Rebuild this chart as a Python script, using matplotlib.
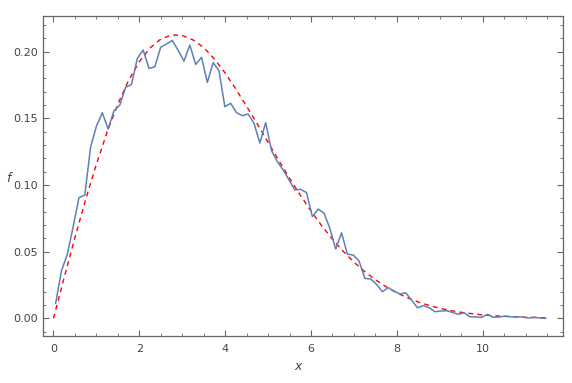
import numpy as np
import matplotlib
matplotlib.use("Agg")
import matplotlib.pyplot as plt
from matplotlib.ticker import MultipleLocator

# histogram-like estimate (blue), evenly spaced bins from 0.05 to 11.47
f_hist = [0.0113, 0.0357, 0.0480, 0.0687, 0.0905, 0.0925, 0.1287, 0.1443, 0.1542, 0.1420,
          0.1557, 0.1600, 0.1733, 0.1755, 0.1950, 0.2013, 0.1875, 0.1887, 0.2033, 0.2058,
          0.2085, 0.2010, 0.1930, 0.2050, 0.1905, 0.1958, 0.1770, 0.1918, 0.1858, 0.1588,
          0.1613, 0.1543, 0.1520, 0.1533, 0.1463, 0.1315, 0.1468, 0.1258, 0.1175, 0.1113,
          0.1038, 0.0963, 0.0968, 0.0943, 0.0763, 0.0820, 0.0788, 0.0675, 0.0520, 0.0642,
          0.0482, 0.0475, 0.0430, 0.0300, 0.0295, 0.0255, 0.0200, 0.0230, 0.0205, 0.0182,
          0.0192, 0.0137, 0.0080, 0.0095, 0.0080, 0.0050, 0.0055, 0.0057, 0.0045, 0.0030,
          0.0042, 0.0012, 0.0010, 0.0008, 0.0030, 0.0008, 0.0010, 0.0017, 0.0012, 0.0012,
          0.0010, 0.0002, 0.0008, 0.0003, 0.0000]
x_hist = np.linspace(0.05, 11.47, len(f_hist))

# reference curve (red dashed), read every 0.25
x_ref = [0.0, 0.25, 0.5, 0.75, 1.0, 1.25, 1.5, 1.75, 2.0, 2.25, 2.5, 2.75, 3.0, 3.25,
         3.5, 3.75, 4.0, 4.25, 4.5, 4.75, 5.0, 5.25, 5.5, 5.75, 6.0, 6.25, 6.5, 6.75,
         7.0, 7.25, 7.5, 7.75, 8.0, 8.25, 8.5, 8.75, 9.0, 9.25, 9.5, 9.75, 10.0, 10.25,
         10.5, 10.75, 11.0, 11.25, 11.5]
f_ref = [0.0, 0.0307, 0.0606, 0.0892, 0.1157, 0.1398, 0.1608, 0.1785, 0.1925, 0.2029,
         0.2095, 0.2126, 0.2122, 0.2089, 0.2032, 0.1945, 0.1840, 0.1719, 0.1590, 0.1458,
         0.1320, 0.1184, 0.1051, 0.0925, 0.0805, 0.0695, 0.0594, 0.0503, 0.0422, 0.0351,
         0.0289, 0.0237, 0.0191, 0.0154, 0.0122, 0.0097, 0.0076, 0.0059, 0.0045, 0.0035,
         0.0026, 0.0020, 0.0015, 0.0011, 0.0008, 0.0006, 0.0004]

frame_col = "#666666"
label_col = "#444444"

fig = plt.figure(figsize=(5.72, 3.83), dpi=100)
ax = fig.add_axes([0.0755, 0.1232, 0.9082, 0.835])

ax.plot(x_hist, f_hist, color="#5E81B5", lw=1.1, zorder=3)
ax.plot(x_ref, f_ref, color="#FF0000", lw=1.0, dashes=(3.5, 3.0), zorder=2)

ax.set_xlim(-0.24, 11.864)
ax.set_ylim(-0.0131, 0.2268)

ax.xaxis.set_major_locator(MultipleLocator(2))
ax.xaxis.set_minor_locator(MultipleLocator(0.5))
ax.yaxis.set_major_locator(MultipleLocator(0.05))
ax.yaxis.set_minor_locator(MultipleLocator(0.01))
ax.yaxis.set_major_formatter(plt.FormatStrFormatter("%.2f"))

ax.tick_params(which="both", direction="in", top=True, right=True,
               color=frame_col, labelcolor=label_col, labelsize=8)
ax.tick_params(which="major", length=4, width=0.8)
ax.tick_params(which="minor", length=2.2, width=0.6)
ax.tick_params(axis="x", pad=6)

for s in ax.spines.values():
    s.set_color(frame_col)
    s.set_linewidth(0.9)

fig.text(298 / 572, 1 - 366 / 383, "x", style="italic", fontsize=9,
         color=label_col, ha="center", va="center")
fig.text(8 / 572, 1 - 178 / 383, "f", style="italic", fontsize=9,
         color=label_col, ha="center", va="center")

fig.savefig("out.png", dpi=100)
